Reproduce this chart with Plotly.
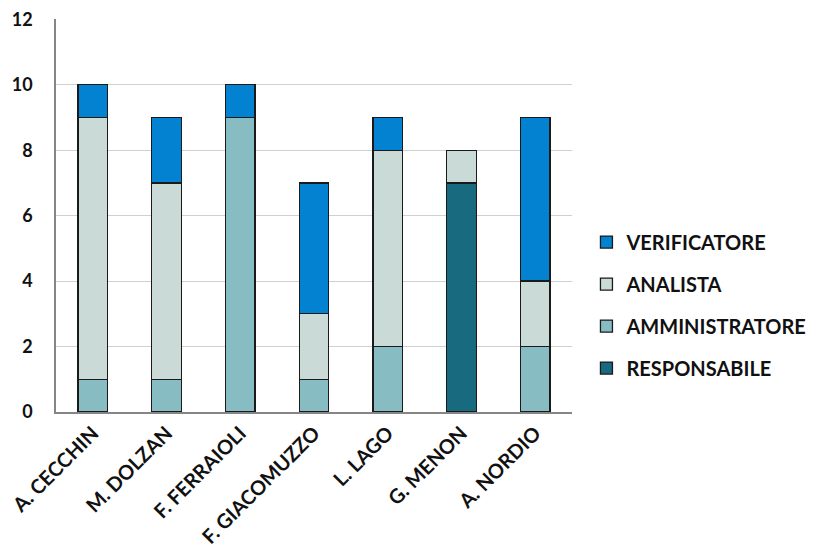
import plotly.graph_objects as go

categories = ["A. CECCHIN", "M. DOLZAN", "F. FERRAIOLI", "F. GIACOMUZZO", "L. LAGO", "G. MENON", "A. NORDIO"]
responsabile = [0, 0, 0, 0, 0, 7, 0]
amministratore = [1, 1, 9, 1, 2, 0, 2]
analista = [8, 6, 0, 2, 6, 1, 2]
verificatore = [1, 2, 1, 4, 1, 0, 5]
y_ticks = [0, 2, 4, 6, 8, 10, 12]

series = [
    ("RESPONSABILE", responsabile, "#186A7E", 4),
    ("AMMINISTRATORE", amministratore, "#86BCC2", 3),
    ("ANALISTA", analista, "#C9DAD7", 2),
    ("VERIFICATORE", verificatore, "#0382D2", 1),
]

font_family = "Lato, Open Sans, sans-serif"

fig = go.Figure()
for name, vals, color, rank in series:
    fig.add_trace(go.Bar(
        x=categories, y=vals, name=name, legendgroup=name, legendrank=rank,
        marker=dict(color=color, line=dict(color="#1a1a1a", width=1.3)),
    ))

fig.update_layout(
    barmode="stack",
    bargap=0.6,
    width=815, height=550,
    margin=dict(l=48, r=246, t=11, b=146),
    plot_bgcolor="white", paper_bgcolor="white",
    font=dict(family=font_family, color="#111111"),
    legend=dict(
        x=1.028, y=0.272, xanchor="left", yanchor="middle",
        traceorder="grouped", tracegroupgap=13,
        font=dict(size=20, family=font_family, weight="bold"),
        itemwidth=30,
    ),
    showlegend=True,
)
fig.update_yaxes(
    range=[0, 12.01], tickmode="array", tickvals=y_ticks, automargin=False,
    ticklabeloverflow="allow",
    showgrid=True, gridcolor="#D0D0D0", gridwidth=1,
    showline=True, linecolor="#868686", linewidth=1.5,
    tickfont=dict(size=18, weight="bold", family=font_family),
    ticks="", ticklabelstandoff=18,
    zeroline=False,
)
fig.update_xaxes(
    showline=True, linecolor="#868686", linewidth=1.5, automargin=False,
    tickangle=-45,
    tickfont=dict(size=20, weight="bold", family=font_family),
    ticks="",
)

fig.write_html("out.html")
